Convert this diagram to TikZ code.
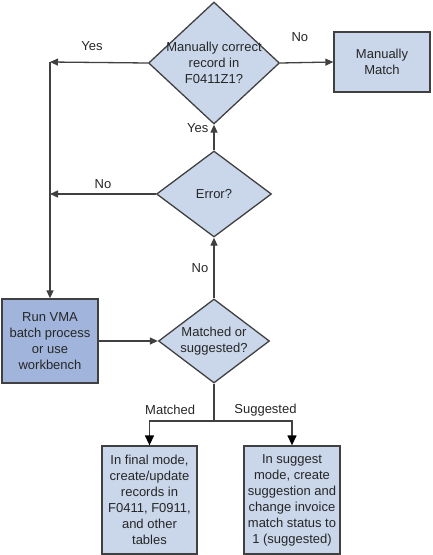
\documentclass[tikz,border=0pt]{standalone}
\usepackage{fontspec}
\setmainfont{Liberation Sans}
\usetikzlibrary{shapes.geometric,arrows.meta}
\definecolor{boxfill}{HTML}{CAD7EB}
\definecolor{runfill}{HTML}{A1B5DC}
\definecolor{edge}{HTML}{404040}

\begin{document}
\begin{tikzpicture}
  [x=1pt,y=-1pt,
   every node/.style={font=\fontsize{13}{16}\selectfont,text=black!85},
   box/.style={rectangle,draw=edge,fill=boxfill,line width=1.3pt,align=center,inner sep=0pt},
   decision/.style={diamond,draw=edge,fill=boxfill,line width=1.3pt,inner sep=0pt},
   tag/.style={inner sep=0pt},
   flow/.style={draw=edge,line width=1.3pt,-{Triangle[length=8pt,width=7pt]}},
   branch/.style={draw=edge,line width=1.3pt,-{Triangle[length=10pt,width=9pt,color=black]}}]
  \useasboundingbox (0,0) rectangle (432,555);
  \node[decision,minimum width=131pt,minimum height=122pt,
        label={[align=center]center:Manually correct\\record in\\F0411Z1?}] (nq) at (214,63) {};
  \node[box,minimum width=96pt,minimum height=60pt] (nm) at (382,62) {Manually\\Match};
  \node[decision,minimum width=115pt,minimum height=86pt,label=center:Error?] (ne) at (214,194) {};
  \node[decision,minimum width=111pt,minimum height=84pt,
        label={[align=center]center:Matched or\\suggested?}] (ns) at (214,341) {};
  \node[box,fill=runfill,minimum width=96pt,minimum height=84pt] (nr) at (50,341) {Run VMA\\batch process\\or use\\workbench};
  \node[box,minimum width=95pt,minimum height=108pt] (nf) at (149.5,500) {In final mode,\\create/update\\records in\\F0411, F0911,\\and other\\tables};
  \node[box,minimum width=96pt,minimum height=108pt] (ng) at (292,500) {In suggest\\mode, create\\suggestion and\\change invoice\\match status to\\1 (suggested)};
  \coordinate (cy) at (50,62);
  \coordinate (cn) at (50,194);
  \coordinate (cs) at (214,421);
  \draw[flow] (nq.west) -- node[tag,pos=0.57,above=11pt] {Yes} (cy);
  \draw[flow] (cy) -- (nr.north);
  \draw[flow] (ne.west) -- node[tag,midway,above=5pt] {No} (cn);
  \draw[flow] (nq.east) -- node[tag,pos=0.37,above=20pt] {No} (nm.west);
  \draw[flow] (ne.north) -- node[tag,pos=0.88,left=5pt] {Yes} (nq.south);
  \draw[flow] (ns.north) -- node[tag,midway,left=5pt] {No} (ne.south);
  \draw[flow] (nr.east) -- (ns.west);
  \draw[draw=edge,line width=1.3pt] (ns.south) -- (cs);
  \draw[branch] (cs) -| node[tag,pos=0.34,above=6pt] {Matched} (nf.north);
  \draw[branch] (cs) -| node[tag,pos=0.33,above=4pt] {Suggested} (ng.north);
\end{tikzpicture}
\end{document}
